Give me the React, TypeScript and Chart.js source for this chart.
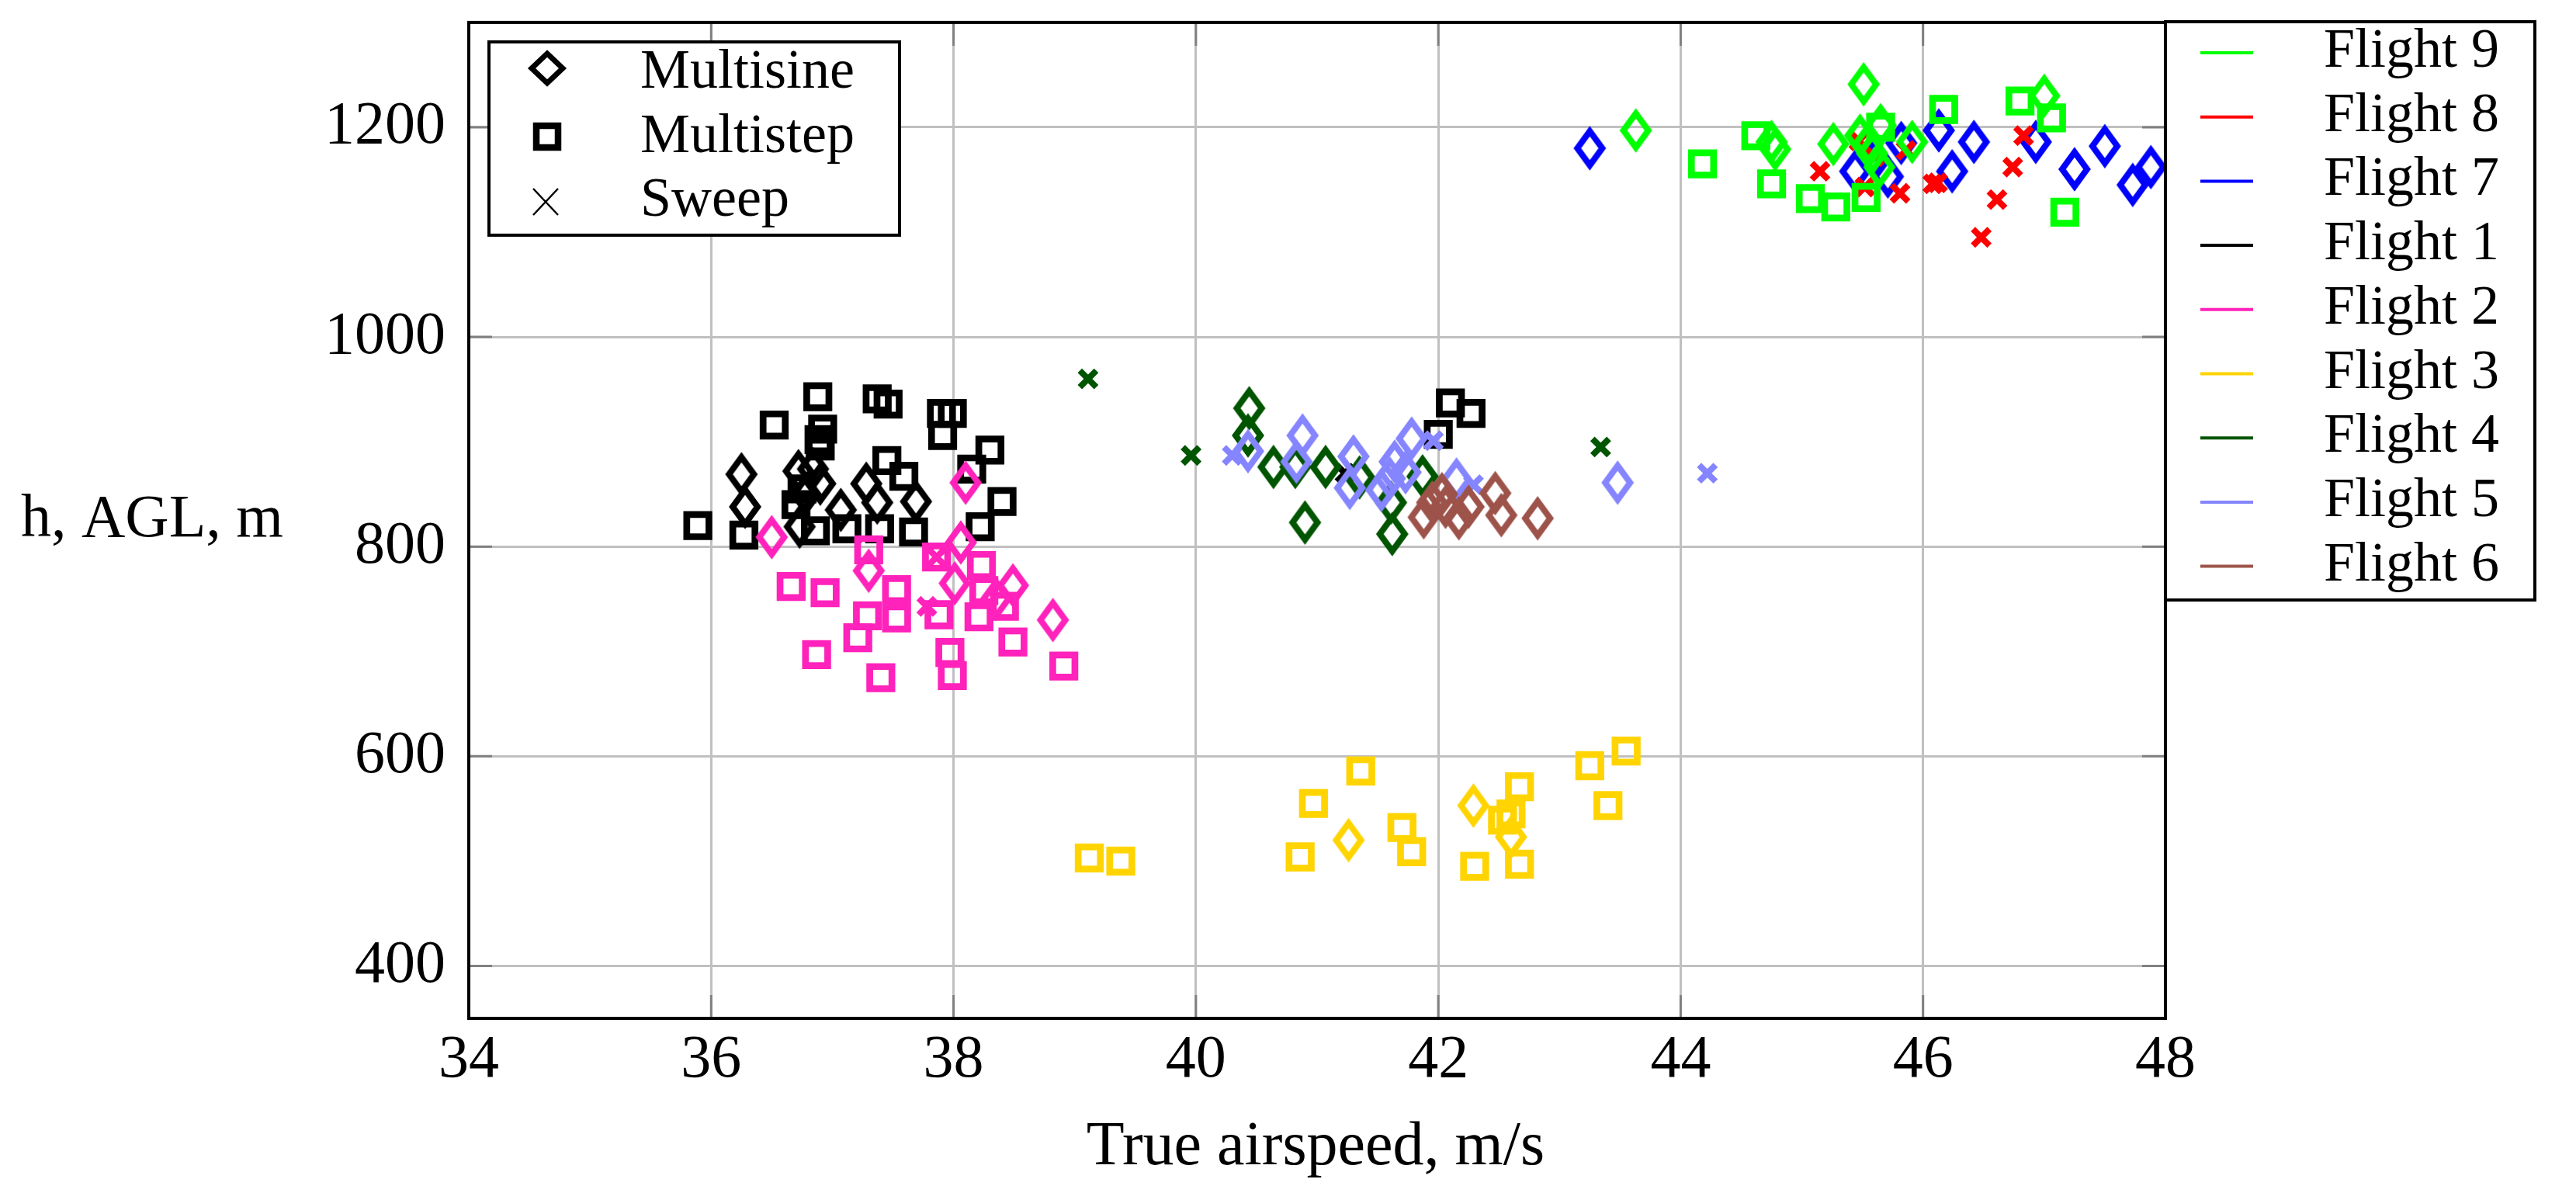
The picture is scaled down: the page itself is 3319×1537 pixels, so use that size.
import React, { useEffect, useRef } from "react";
import { Chart, registerables } from "chart.js";

Chart.register(...registerables);

const W = 3319;
const H = 1537;
const FONT = "'Liberation Serif', 'Times New Roman', serif";

// ---------- axes ----------
const xTicks = [34, 36, 38, 40, 42, 44, 46, 48];
const yTicks = [400, 600, 800, 1000, 1200];
const xRange = [34, 48];
const yRange = [350, 1300];
const xTitle = "True airspeed, m/s";
const yTitle = "h, AGL, m";
const maneuverNames = ["Multisine", "Multistep", "Sweep"];

// ---------- data: [true airspeed, height] ----------
const f1Multisine = [[36.25, 869], [36.28, 838], [36.72, 872], [36.84, 874], [36.78, 850], [36.73, 819], [37.07, 835], [37.28, 860], [37.37, 842], [37.69, 843], [36.9, 860]];
const f1Multistep = [[35.89, 820], [36.27, 811], [36.52, 916], [36.88, 943], [36.92, 912], [36.89, 902], [37.37, 941], [37.46, 936], [37.45, 882], [37.59, 867], [37.67, 814], [37.39, 817], [37.12, 817], [36.86, 815], [36.9, 896], [37.9, 927], [37.99, 927], [37.91, 906], [38.3, 892], [38.15, 874], [38.4, 843], [38.22, 819], [36.7, 840], [36.75, 855], [42.1, 937], [42.27, 927], [42.0, 907]];
const f1Sweep = [[41.23, 870]];

const f2Multisine = [[36.5, 809], [37.3, 777], [38.1, 861], [38.06, 804], [38.01, 765], [38.49, 763], [38.82, 730], [38.35, 750]];
const f2Multistep = [[37.3, 797], [36.66, 762], [36.94, 756], [36.87, 697], [37.29, 734], [37.21, 713], [37.53, 759], [37.53, 732], [37.4, 675], [37.88, 735], [37.97, 699], [37.99, 677], [38.21, 733], [38.49, 709], [38.91, 686], [38.25, 758], [38.42, 743], [37.86, 790], [38.23, 782]];
const f2Sweep = [[37.78, 743], [37.86, 790]];

const f3Multisine = [[41.26, 520], [42.29, 553], [42.6, 523]];
const f3Multistep = [[39.12, 503], [39.38, 500], [40.97, 555], [40.86, 504], [41.36, 586], [41.7, 532], [41.78, 509], [42.67, 571], [42.6, 545], [42.53, 539], [42.3, 495], [42.67, 497], [43.25, 591], [43.4, 553], [43.55, 605]];

const f4Multisine = [[40.44, 932], [40.43, 906], [40.64, 876], [40.82, 876], [41.07, 876], [40.9, 823], [41.62, 812], [41.61, 842], [41.87, 867], [41.35, 866]];
const f4Sweep = [[39.11, 960], [39.96, 887], [43.34, 895]];

const f5Multisine = [[40.43, 891], [40.88, 906], [40.83, 881], [41.3, 886], [41.27, 856], [41.78, 903], [41.64, 881], [41.53, 854], [41.73, 871], [41.6, 865], [42.15, 864], [43.48, 861]];
const f5Sweep = [[40.3, 887], [41.96, 901], [42.29, 859], [44.22, 870]];

const f6Multisine = [[41.88, 828], [41.95, 842], [42.03, 850], [42.06, 838], [42.17, 827], [42.25, 838], [42.47, 851], [42.52, 830], [42.82, 827]];

const f7Multisine = [[43.25, 1180], [45.44, 1158], [45.71, 1153], [45.82, 1185], [46.13, 1197], [46.24, 1158], [46.42, 1186], [46.93, 1186], [47.25, 1160], [47.5, 1182], [47.73, 1145], [47.88, 1162], [45.6, 1170]];

const f8Sweep = [[45.15, 1158], [45.52, 1143], [45.81, 1137], [46.08, 1146], [46.12, 1147], [45.86, 1178], [45.47, 1187], [45.6, 1172], [46.83, 1192], [46.74, 1162], [46.61, 1131], [46.48, 1095]];

const f9Multisine = [[43.63, 1197], [45.51, 1241], [44.75, 1186], [44.78, 1179], [45.26, 1184], [45.48, 1192], [45.65, 1202], [45.58, 1175], [45.64, 1162], [45.91, 1186], [47.0, 1230], [45.55, 1185]];
const f9Multistep = [[44.18, 1165], [44.62, 1192], [44.75, 1146], [45.07, 1132], [45.28, 1124], [45.53, 1133], [45.65, 1200], [46.17, 1217], [46.8, 1225], [47.06, 1209], [47.17, 1119]];

// legend order (top to bottom) = flightNames
const flightNames = ["Flight 9", "Flight 8", "Flight 7", "Flight 1", "Flight 2", "Flight 3", "Flight 4", "Flight 5", "Flight 6"];
const flightColors = ["#00ff00", "#ff0000", "#0000ff", "#000000", "#ff22bb", "#ffd400", "#005500", "#8585ff", "#9d534a"];
const flightMultisine = [f9Multisine, [], f7Multisine, f1Multisine, f2Multisine, f3Multisine, f4Multisine, f5Multisine, f6Multisine];
const flightMultistep = [f9Multistep, [], [], f1Multistep, f2Multistep, f3Multistep, [], [], []];
const flightSweep = [[], f8Sweep, [], f1Sweep, f2Sweep, [], f4Sweep, f5Sweep, []];
// drawing order: Flight 9 on top ... Flight 1 at the bottom
const flightOrder = [0, 1, 2, 8, 7, 6, 5, 4, 3];

function makeDiamond(color: string, a: number, b: number, lw: number) {
  const c = document.createElement("canvas");
  c.width = 52;
  c.height = 64;
  const g = c.getContext("2d")!;
  const cx = c.width / 2, cy = c.height / 2;
  g.beginPath();
  g.moveTo(cx, cy - b);
  g.lineTo(cx + a, cy);
  g.lineTo(cx, cy + b);
  g.lineTo(cx - a, cy);
  g.closePath();
  g.lineJoin = "miter";
  g.miterLimit = 10;
  g.lineWidth = lw;
  g.strokeStyle = color;
  g.stroke();
  return c;
}

function strokeDiamond(ctx: CanvasRenderingContext2D, cx: number, cy: number, a: number, b: number, lw: number, color: string) {
  ctx.beginPath();
  ctx.moveTo(cx, cy - b);
  ctx.lineTo(cx + a, cy);
  ctx.lineTo(cx, cy + b);
  ctx.lineTo(cx - a, cy);
  ctx.closePath();
  ctx.lineJoin = "miter";
  ctx.lineWidth = lw;
  ctx.strokeStyle = color;
  ctx.stroke();
}

const decorPlugin = {
  id: "decor",
  beforeDatasetsDraw(chart: any) {
    const { ctx, chartArea: a, scales } = chart;
    ctx.save();
    ctx.strokeStyle = "#808080";
    ctx.lineWidth = 3;
    const L = 30;
    xTicks.forEach((v) => {
      const px = scales.x.getPixelForValue(v);
      ctx.beginPath();
      ctx.moveTo(px, a.bottom); ctx.lineTo(px, a.bottom - L);
      ctx.moveTo(px, a.top); ctx.lineTo(px, a.top + L);
      ctx.stroke();
    });
    yTicks.forEach((v) => {
      const py = scales.y.getPixelForValue(v);
      ctx.beginPath();
      ctx.moveTo(a.left, py); ctx.lineTo(a.left + L, py);
      ctx.moveTo(a.right, py); ctx.lineTo(a.right - L, py);
      ctx.stroke();
    });
    ctx.restore();
  },
  afterDraw(chart: any) {
    const { ctx, chartArea: a } = chart;
    ctx.save();
    // frame
    ctx.strokeStyle = "#000";
    ctx.lineWidth = 4;
    ctx.strokeRect(a.left, a.top, a.right - a.left, a.bottom - a.top);

    // axis titles
    ctx.fillStyle = "#000";
    ctx.font = `78px ${FONT}`;
    ctx.textBaseline = "alphabetic";
    ctx.textAlign = "left";
    ctx.fillText(yTitle, 27, 691);
    ctx.textAlign = "center";
    ctx.font = `80px ${FONT}`;
    ctx.fillText(xTitle, (a.left + a.right) / 2 - 2, 1500);

    // maneuver legend (inside plot)
    const bx = 630, by = 54, bw = 529, bh = 249;
    ctx.fillStyle = "#fff";
    ctx.fillRect(bx, by, bw, bh);
    ctx.lineWidth = 4;
    ctx.strokeStyle = "#000";
    ctx.strokeRect(bx, by, bw, bh);
    strokeDiamond(ctx, 705, 88, 20, 19, 7, "#000");
    ctx.lineWidth = 8.5;
    ctx.strokeRect(705 - 14, 176 - 14, 28, 28);
    ctx.lineWidth = 2.5;
    ctx.beginPath();
    ctx.moveTo(703 - 16, 260 - 17); ctx.lineTo(703 + 16, 260 + 17);
    ctx.moveTo(703 + 16, 260 - 17); ctx.lineTo(703 - 16, 260 + 17);
    ctx.stroke();
    ctx.fillStyle = "#000";
    ctx.font = `72px ${FONT}`;
    ctx.textAlign = "left";
    const mBase = [113, 196, 278];
    maneuverNames.forEach((n, i) => ctx.fillText(n, 825, mBase[i]));

    // flight legend (right)
    const lx = a.right, ly = 28, lw = 3266 - a.right, lh = 773 - 28;
    ctx.fillStyle = "#fff";
    ctx.fillRect(lx, ly, lw, lh);
    ctx.lineWidth = 4;
    ctx.strokeStyle = "#000";
    ctx.strokeRect(lx, ly, lw, lh);
    flightNames.forEach((n, i) => {
      const base = 86 + 82.7 * i;
      const lineY = 68 + 82.7 * i;
      ctx.strokeStyle = flightColors[i];
      ctx.lineWidth = 4;
      ctx.beginPath();
      ctx.moveTo(2835, lineY);
      ctx.lineTo(2903, lineY);
      ctx.stroke();
      ctx.fillStyle = "#000";
      ctx.fillText(n, 2994, base);
    });
    ctx.restore();
  },
};

export default function App() {
  const ref = useRef<HTMLCanvasElement | null>(null);

  useEffect(() => {
    if (!ref.current) return;
    const toPts = (arr: number[][]) => arr.map(([x, y]) => ({ x, y }));
    const datasets: any[] = [];
    flightNames.forEach((name, i) => {
      const color = flightColors[i];
      const order = flightOrder[i];
      if (flightMultistep[i].length) {
        datasets.push({
          label: `${name} Multistep`,
          data: toPts(flightMultistep[i]),
          pointStyle: "rect",
          pointRadius: 20.2,
          borderWidth: 8.7,
          borderColor: color,
          backgroundColor: "rgba(0,0,0,0)",
          order: order * 3 + 2,
        });
      }
      if (flightMultisine[i].length) {
        datasets.push({
          label: `${name} Multisine`,
          data: toPts(flightMultisine[i]),
          pointStyle: makeDiamond(color, 16, 22, 8),
          pointRadius: 20,
          borderWidth: 0,
          borderColor: color,
          backgroundColor: "rgba(0,0,0,0)",
          order: order * 3 + 1,
        });
      }
      if (flightSweep[i].length) {
        datasets.push({
          label: `${name} Sweep`,
          data: toPts(flightSweep[i]),
          pointStyle: "crossRot",
          pointRadius: 15,
          borderWidth: 8,
          borderColor: color,
          backgroundColor: color,
          order: order * 3,
        });
      }
    });

    const chart = new Chart(ref.current, {
      type: "scatter",
      data: { datasets },
      options: {
        responsive: false,
        animation: false,
        devicePixelRatio: 1,
        layout: { padding: { left: 0, top: 26, right: W - 2790, bottom: 0 } },
        plugins: { legend: { display: false }, tooltip: { enabled: false } },
        scales: {
          x: {
            type: "linear",
            min: xRange[0],
            max: xRange[1],
            afterBuildTicks: (axis: any) => { axis.ticks = xTicks.map((v) => ({ value: v })); },
            afterFit: (axis: any) => {
              axis.height = H - 1312;
              axis.paddingLeft = 0;
              axis.paddingRight = 0;
            },
            grid: { color: "#c0c0c0", lineWidth: 3, drawTicks: false },
            border: { display: false },
            ticks: { color: "#000", padding: 8, font: { family: FONT, size: 78 }, maxRotation: 0, callback: (v: any) => String(v) },
          },
          y: {
            type: "linear",
            min: yRange[0],
            max: yRange[1],
            afterBuildTicks: (axis: any) => { axis.ticks = yTicks.map((v) => ({ value: v })); },
            afterFit: (axis: any) => {
              axis.width = 604;
              axis.paddingTop = 0;
              axis.paddingBottom = 0;
            },
            grid: { color: "#c0c0c0", lineWidth: 3, drawTicks: false },
            border: { display: false },
            ticks: { color: "#000", padding: 30, font: { family: FONT, size: 78 }, callback: (v: any) => String(v) },
          },
        },
      },
      plugins: [decorPlugin],
    } as any);
    return () => chart.destroy();
  }, []);

  return (
    <div style={{ position: "absolute", left: 0, top: 0, width: W, height: H, background: "#fff" }}>
      <canvas ref={ref} width={W} height={H} style={{ width: W, height: H, display: "block" }} />
    </div>
  );
}
